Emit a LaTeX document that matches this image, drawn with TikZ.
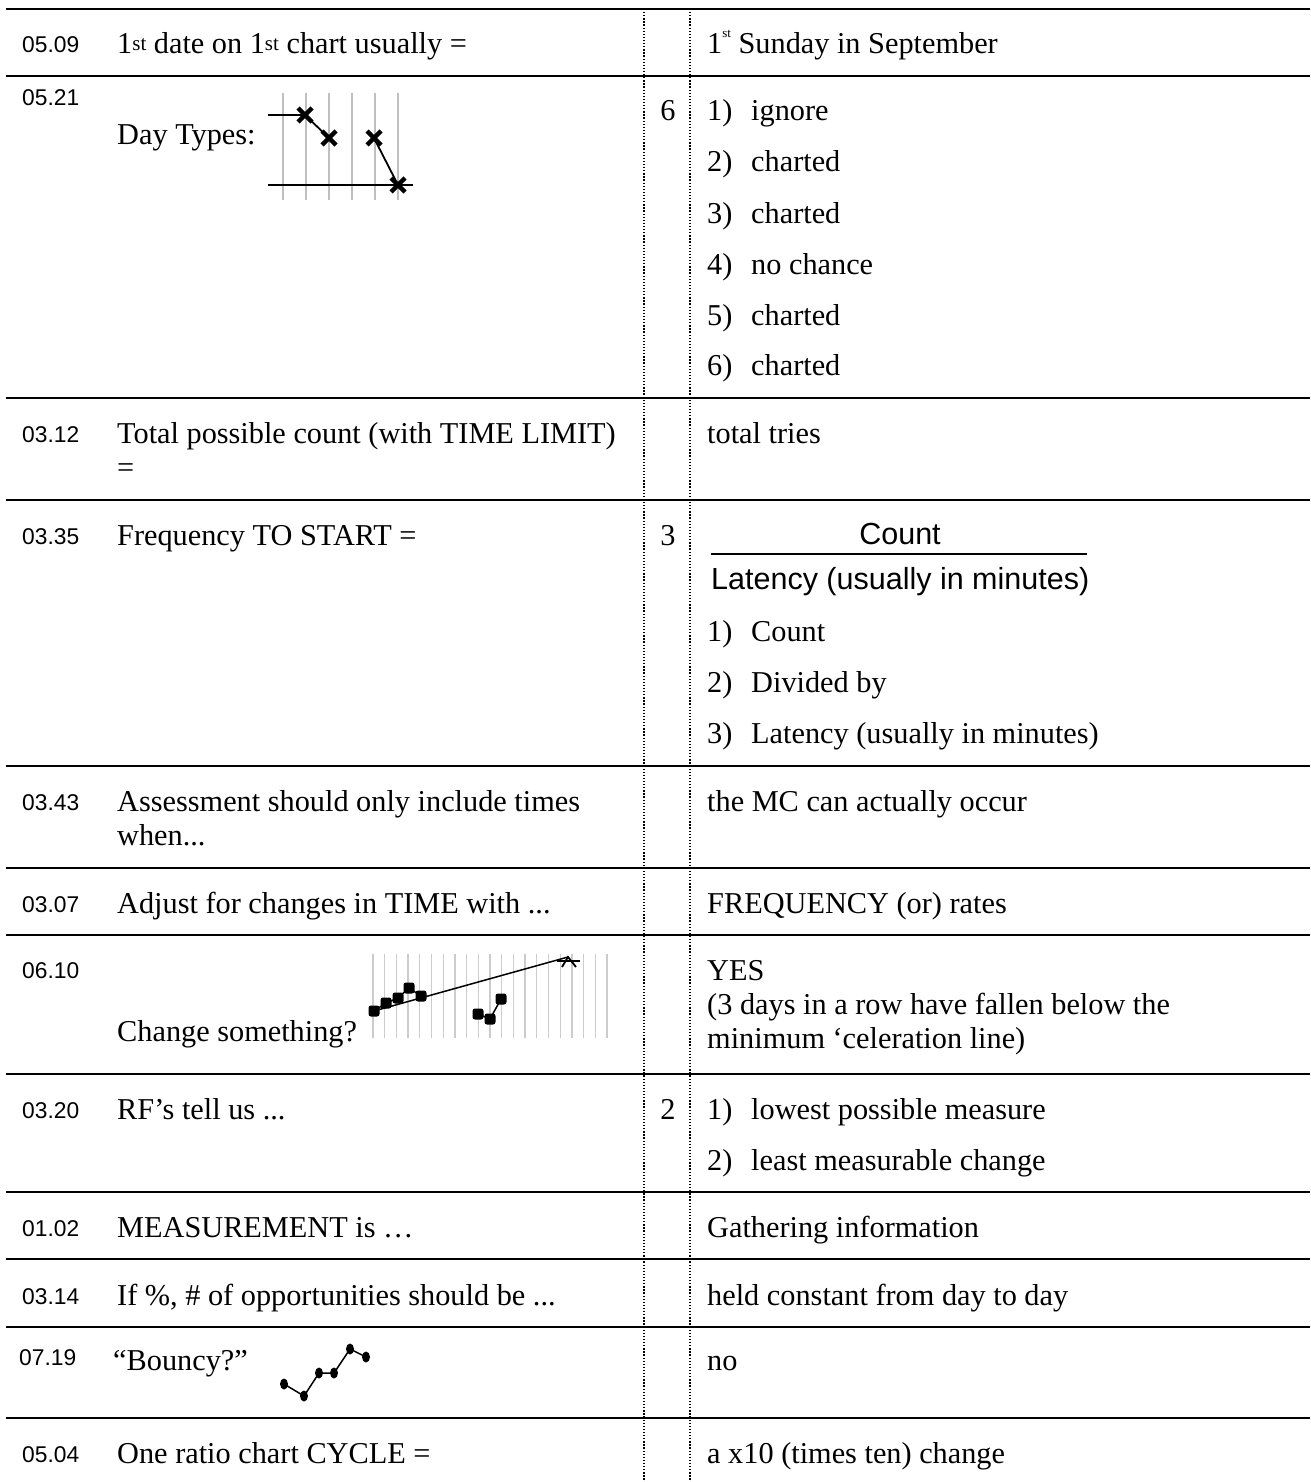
\documentclass[tikz,border=0pt]{standalone}
\usepackage{fontspec}
\setmainfont{Liberation Serif}
\setsansfont{Liberation Sans}
\usetikzlibrary{shapes.geometric}
\newcommand\txtfont{\rmfamily\fontsize{30.3pt}{34pt}\selectfont}
\newcommand\codefont{\sffamily\fontsize{22.8pt}{26pt}\selectfont}
\newcommand\fracfont{\sffamily\fontsize{30.5pt}{34pt}\selectfont}
\newcommand\qsup[1]{\raisebox{3.5pt}{\fontsize{21pt}{21pt}\selectfont #1}}
\newcommand\asup[1]{\raisebox{16pt}{\fontsize{13pt}{13pt}\selectfont #1}}
\tikzset{
  rule/.style={line width=2pt},
  colsep/.style={line width=1.3pt, dash pattern=on 1.3pt off 1.8pt},
  code/.style={anchor=base west, inner sep=0pt, font=\codefont},
  txt/.style={anchor=base west, inner sep=0pt, font=\txtfont},
  num/.style={anchor=base, inner sep=0pt, font=\txtfont},
  sans/.style={inner sep=0pt, font=\fracfont},
  gridA/.style={draw=black!25, line width=2pt},
  gridB/.style={draw=black!20, line width=1.3pt},
  plotline/.style={line width=1.8pt},
  xmk/.pic={\draw[line width=4.4pt] (-7,-7)--(7,7) (-7,7)--(7,-7);},
  blob/.style={rectangle, fill, minimum size=11pt, inner sep=0pt, rounded corners=2.5pt},
  bdot/.style={ellipse, fill, minimum width=8pt, minimum height=11pt, inner sep=0pt}
}
\begin{document}
\begin{tikzpicture}[x=1pt,y=-1pt]
\useasboundingbox (0,0) rectangle (1310,1482);
% horizontal rules
\foreach \yy in {9,76,398,500,766,868,935,1074,1192,1259,1327,1418}
  \draw[rule] (6,\yy) -- (1310,\yy);
% dotted column separators
\draw[colsep] (644,9) -- (644,1482);
\draw[colsep] (690,9) -- (690,1482);

% Row 1
\node[code] (c1) at (22,53) {05.09};
\node[txt] (q1) at (117,54) {1\qsup{st} date on 1\qsup{st} chart usually =};
\node[txt] (a1) at (707,54) {1\asup{st} Sunday in September};

% Row 2
\node[code] (c2) at (22,106) {05.21};
\node[txt] (q2) at (117,145) {Day Types:};
\foreach \xx in {283,306,329,352,375,398}
  \draw[gridA] (\xx,93) -- (\xx,200);
\coordinate (dl1) at (268,115);
\coordinate (d1) at (305,115);
\coordinate (d2) at (329,138);
\coordinate (d3) at (374,138);
\coordinate (d4) at (398,185);
\coordinate (dl2) at (268,185);
\coordinate (dr2) at (413,185);
\draw[plotline] (dl1) -- (d1) -- (d2);
\draw[plotline] (d3) -- (d4);
\draw[plotline] (dl2) -- (dr2);
\foreach \p in {d1,d2,d3,d4} \pic at (\p) {xmk};
\node[num] (n2) at (668,121) {6};
\node[txt] (a2a) at (707,121) {1)};
\node[txt] (a2at) at (751,121) {ignore};
\node[txt] (a2b) at (707,172) {2)};
\node[txt] (a2bt) at (751,172) {charted};
\node[txt] (a2c) at (707,223) {3)};
\node[txt] (a2ct) at (751,223) {charted};
\node[txt] (a2d) at (707,274) {4)};
\node[txt] (a2dt) at (751,274) {no chance};
\node[txt] (a2e) at (707,325) {5)};
\node[txt] (a2et) at (751,325) {charted};
\node[txt] (a2f) at (707,375) {6)};
\node[txt] (a2ft) at (751,375) {charted};

% Row 3
\node[code] (c3) at (22,442) {03.12};
\node[txt] (q3) at (117,443) {Total possible count (with TIME LIMIT)};
\node[txt] (q3b) at (117,477) {=};
\node[txt] (a3) at (707,443) {total tries};

% Row 4
\node[code] (c4) at (22,544) {03.35};
\node[txt] (q4) at (117,545) {Frequency TO START =};
\node[num] (n4) at (668,545) {3};
\node[sans, anchor=base] (cnt) at (900,544) {Count};
\coordinate (fl) at (711,554);
\coordinate (fr) at (1087,554);
\draw[line width=2pt] (fl) -- (fr);
\node[sans, anchor=base west] (lat) at (711,589) {Latency (usually in minutes)};
\node[txt] (a4a) at (707,641) {1)};
\node[txt] (a4at) at (751,641) {Count};
\node[txt] (a4b) at (707,692) {2)};
\node[txt] (a4bt) at (751,692) {Divided by};
\node[txt] (a4c) at (707,743) {3)};
\node[txt] (a4ct) at (751,743) {Latency (usually in minutes)};

% Row 5
\node[code] (c5) at (22,810) {03.43};
\node[txt] (q5) at (117,811) {Assessment should only include times};
\node[txt] (q5b) at (117,845) {when...};
\node[txt] (a5) at (707,811) {the MC can actually occur};

% Row 6
\node[code] (c6) at (22,912) {03.07};
\node[txt] (q6) at (117,913) {Adjust for changes in TIME with ...};
\node[txt] (a6) at (707,913) {FREQUENCY (or) rates};

% Row 7
\node[code] (c7) at (22,978) {06.10};
\node[txt] (q7) at (117,1041) {Change something?};
\foreach \i in {0,...,20}
  \draw[gridB] ({373+\i*11.7},954) -- ({373+\i*11.7},1038);
\node[blob] (p1) at (374,1011) {};
\node[blob] (p2) at (386,1003) {};
\node[blob] (p3) at (398,998) {};
\node[blob] (p4) at (409,988) {};
\node[blob] (p5) at (421,996) {};
\node[blob] (p6) at (478,1014) {};
\node[blob] (p7) at (490,1019) {};
\node[blob] (p8) at (501,999) {};
\coordinate (cr) at (568,957);
\coordinate (crl) at (557,961);
\coordinate (crr) at (580,961);
\coordinate (cra) at (562,967);
\coordinate (crb) at (576,967);
\draw[line width=1.5pt] (p1.center) -- (p2.center) -- (p3.center) -- (p4.center) -- (p5.center);
\draw[line width=1.5pt] (p6.center) -- (p7.center) -- (p8.center);
\draw[line width=1.5pt] (p1.center) -- (cr);
\draw[line width=1.8pt] (crl) -- (crr);
\draw[line width=1.8pt] (cra) -- (cr) -- (crb);
\node[txt] (a7) at (707,980) {YES};
\node[txt] (a7b) at (707,1014) {(3 days in a row have fallen below the};
\node[txt] (a7c) at (707,1048) {minimum ‘celeration line)};

% Row 8
\node[code] (c8) at (22,1118) {03.20};
\node[txt] (q8) at (117,1119) {RF's tell us ...};
\node[num] (n8) at (668,1119) {2};
\node[txt] (a8a) at (707,1119) {1)};
\node[txt] (a8at) at (751,1119) {lowest possible measure};
\node[txt] (a8b) at (707,1170) {2)};
\node[txt] (a8bt) at (751,1170) {least measurable change};

% Row 9
\node[code] (c9) at (22,1236) {01.02};
\node[txt] (q9) at (117,1237) {MEASUREMENT is …};
\node[txt] (a9) at (707,1237) {Gathering information};

% Row 10
\node[code] (c10) at (22,1304) {03.14};
\node[txt] (q10) at (117,1305) {If \%, \# of opportunities should be ...};
\node[txt] (a10) at (707,1305) {held constant from day to day};

% Row 11
\node[code] (c11) at (19,1365) {07.19};
\node[txt] (q11) at (113,1370) {“Bouncy?”};
\node[bdot] (b1) at (284,1384) {};
\node[bdot] (b2) at (304,1396) {};
\node[bdot] (b3) at (319,1373) {};
\node[bdot] (b4) at (334,1373) {};
\node[bdot] (b5) at (350,1349) {};
\node[bdot] (b6) at (366,1357) {};
\draw[line width=1.5pt] (b1.center) -- (b2.center) -- (b3.center) -- (b4.center) -- (b5.center) -- (b6.center);
\node[txt] (a11) at (707,1370) {no};

% Row 12
\node[code] (c12) at (22,1462) {05.04};
\node[txt] (q12) at (117,1463) {One ratio chart CYCLE =};
\node[txt] (a12) at (707,1463) {a x10 (times ten) change};
\end{tikzpicture}
\end{document}
